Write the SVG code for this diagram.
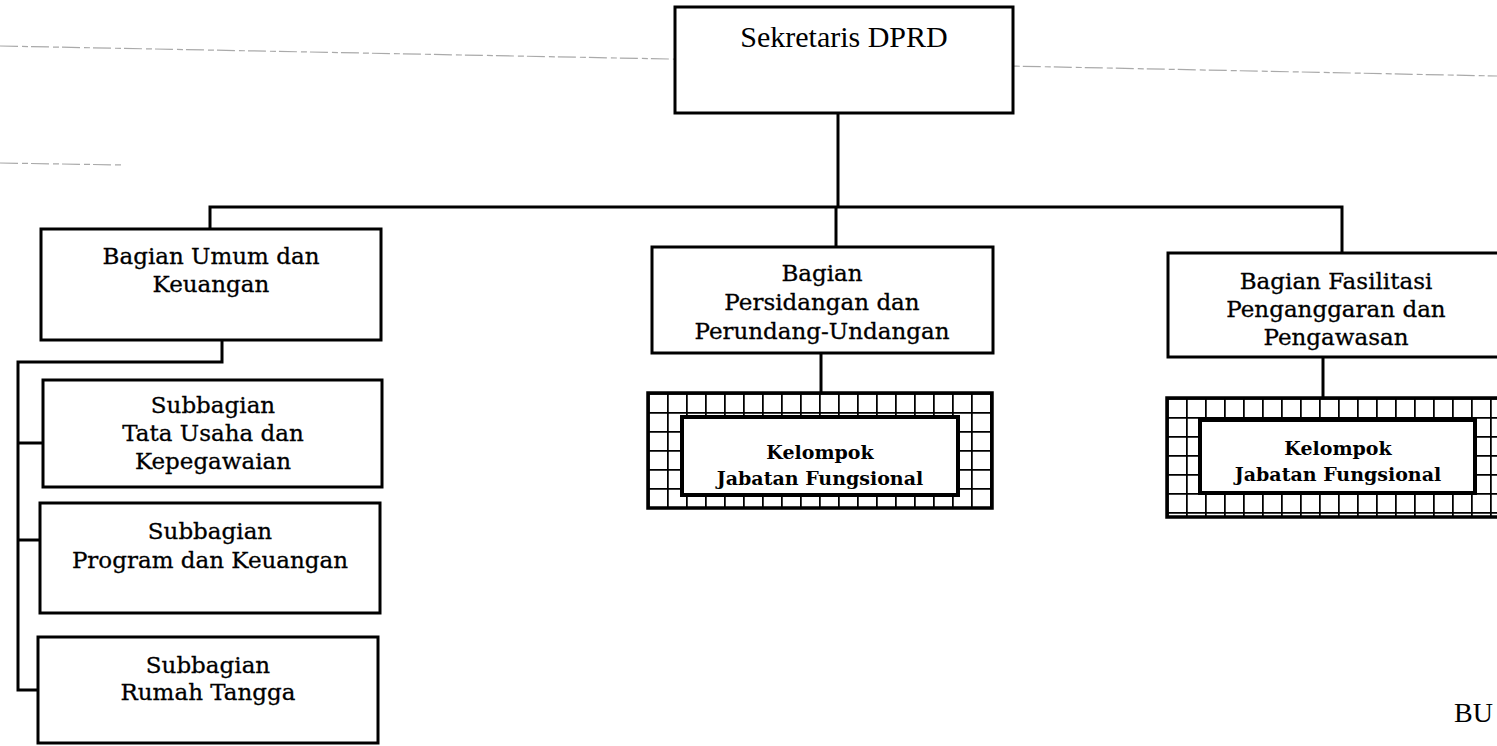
<svg xmlns="http://www.w3.org/2000/svg" width="1497" height="746" viewBox="0 0 1497 746">
<style>
.box{fill:#fff;stroke:#000;stroke-width:3}
.ln{fill:none;stroke:#000;stroke-width:3}
.t{font-family:"DejaVu Serif","Liberation Serif",serif;font-size:23px;fill:#000;stroke:#000;stroke-width:0.3;text-anchor:middle}
.k{font-family:"DejaVu Serif","Liberation Serif",serif;font-size:19px;font-weight:bold;fill:#000;text-anchor:middle}
.h{font-family:"Liberation Serif",serif;font-size:30px;fill:#000;text-anchor:middle}
.scan{fill:none;stroke:#aaa;stroke-width:1.2;stroke-dasharray:18 4 6 3}
</style>
<defs>
<pattern id="grid" patternUnits="userSpaceOnUse" width="19" height="19" x="648" y="393">
<rect width="19" height="19" fill="#fff"/>
<path d="M0 0H19M0 0V19" stroke="#000" stroke-width="3.5"/>
</pattern>
<pattern id="grid2" patternUnits="userSpaceOnUse" width="19" height="19" x="1167" y="398">
<rect width="19" height="19" fill="#fff"/>
<path d="M0 0H19M0 0V19" stroke="#000" stroke-width="3.5"/>
</pattern>
</defs>
<rect width="1497" height="746" fill="#fff"/>
<g id="scan-artifacts">
<polyline class="scan" points="0,46 669,59 1008,66 1497,76"/>
<line class="scan" x1="0" y1="163" x2="124" y2="165"/>
</g>
<g id="connectors">
<path class="ln" d="M838 113V207"/>
<path class="ln" d="M210 229V207H1342V253"/>
<path class="ln" d="M836 207V247"/>
<path class="ln" d="M821 353V393"/>
<path class="ln" d="M1323 357V398"/>
<path class="ln" d="M222 340V362H18V690H40"/>
<path class="ln" d="M18 443H43"/>
<path class="ln" d="M18 540H40"/>
</g>
<g id="sekretaris">
<rect class="box" x="675" y="7" width="338" height="106"/>
<text class="h" x="844" y="47">Sekretaris DPRD</text>
</g>
<g id="bagian-umum">
<rect class="box" x="41" y="229" width="340" height="111"/>
<text class="t" x="211" y="264">Bagian Umum dan</text>
<text class="t" x="211" y="292">Keuangan</text>
</g>
<g id="bagian-persidangan">
<rect class="box" x="652" y="247" width="341" height="106"/>
<text class="t" x="822" y="281">Bagian</text>
<text class="t" x="822" y="310">Persidangan dan</text>
<text class="t" x="822" y="339">Perundang-Undangan</text>
</g>
<g id="bagian-fasilitasi">
<rect class="box" x="1168" y="253" width="340" height="104"/>
<text class="t" x="1336" y="289">Bagian Fasilitasi</text>
<text class="t" x="1336" y="317">Penganggaran dan</text>
<text class="t" x="1336" y="345">Pengawasan</text>
</g>
<g id="jf-persidangan">
<rect x="648" y="393" width="344" height="115" fill="url(#grid)" stroke="#000" stroke-width="3.5"/>
<rect x="682" y="417" width="276" height="78" fill="#fff" stroke="#000" stroke-width="4"/>
<text class="k" x="820" y="459">Kelompok</text>
<text class="k" x="820" y="485">Jabatan Fungsional</text>
</g>
<g id="jf-fasilitasi">
<rect x="1167" y="398" width="345" height="119" fill="url(#grid2)" stroke="#000" stroke-width="3.5"/>
<rect x="1200" y="420" width="275" height="73" fill="#fff" stroke="#000" stroke-width="4"/>
<text class="k" x="1338" y="455">Kelompok</text>
<text class="k" x="1338" y="481">Jabatan Fungsional</text>
</g>
<g id="sub-tata-usaha">
<rect class="box" x="43" y="380" width="339" height="107"/>
<text class="t" x="213" y="413">Subbagian</text>
<text class="t" x="213" y="441">Tata Usaha dan</text>
<text class="t" x="213" y="469">Kepegawaian</text>
</g>
<g id="sub-program">
<rect class="box" x="40" y="503" width="340" height="110"/>
<text class="t" x="210" y="539">Subbagian</text>
<text class="t" x="210" y="568">Program dan Keuangan</text>
</g>
<g id="sub-rumah-tangga">
<rect class="box" x="38" y="637" width="340" height="106"/>
<text class="t" x="208" y="673">Subbagian</text>
<text class="t" x="208" y="700">Rumah Tangga</text>
</g>
<text x="1454" y="722" font-family="Liberation Serif, serif" font-size="28" fill="#000">BU</text>
</svg>
